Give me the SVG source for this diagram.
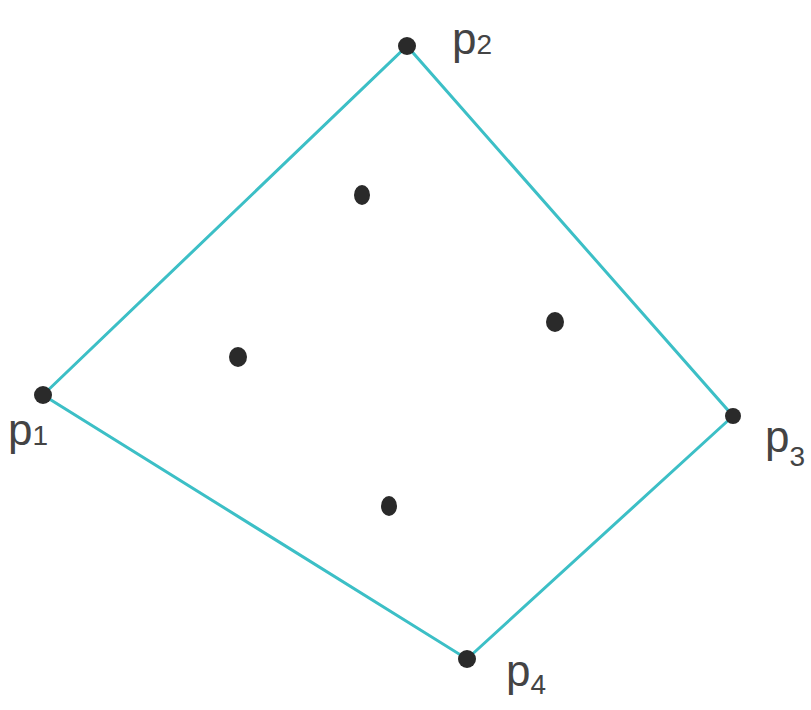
<svg xmlns="http://www.w3.org/2000/svg" width="811" height="710" viewBox="0 0 811 710">
<style>
.edge{stroke:#3cbfc6;stroke-width:3;fill:none;stroke-linecap:round}
.pt{fill:#2a2a2a}
.lbl{font-family:"Liberation Sans",Arial,sans-serif;font-size:44px;fill:#444}
.sub{font-size:28px}
</style>
<rect width="811" height="710" fill="#ffffff"/>
<g id="hull">
<polygon class="edge" points="43,395 407,46 733,416 467,659"/>
</g>
<g id="p1"><circle class="pt" cx="43" cy="395" r="9"/><text class="lbl" x="8" y="445">p<tspan class="sub" dy="0">1</tspan></text></g>
<g id="p2"><circle class="pt" cx="407" cy="46" r="9"/><text class="lbl" x="452" y="54">p<tspan class="sub" dy="0">2</tspan></text></g>
<g id="p3"><circle class="pt" cx="733" cy="416" r="8"/><text class="lbl" x="765" y="452">p<tspan class="sub" dy="14">3</tspan></text></g>
<g id="p4"><circle class="pt" cx="467" cy="659" r="9"/><text class="lbl" x="506" y="686">p<tspan class="sub" dy="8">4</tspan></text></g>
<g id="q1"><ellipse class="pt" cx="362" cy="195" rx="8" ry="10"/></g>
<g id="q2"><ellipse class="pt" cx="555" cy="322" rx="9" ry="10"/></g>
<g id="q3"><ellipse class="pt" cx="238" cy="357" rx="9" ry="10"/></g>
<g id="q4"><ellipse class="pt" cx="389" cy="506" rx="8" ry="10"/></g>
</svg>
